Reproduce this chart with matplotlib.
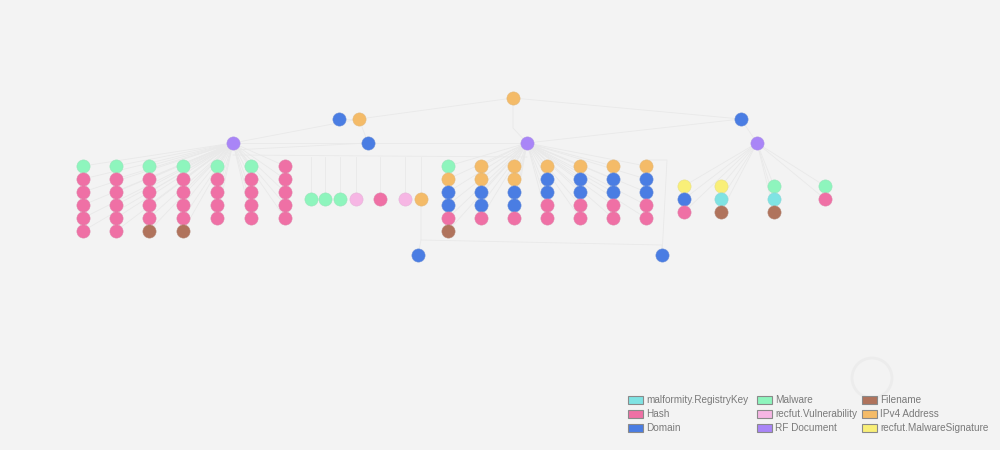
import matplotlib
matplotlib.use('Agg')
import matplotlib.pyplot as plt
from matplotlib.patches import Rectangle
from matplotlib.colors import to_rgb

plt.rcParams['font.family'] = ['Liberation Sans', 'DejaVu Sans']

# Типы сущностей (порядок как в легенде, по столбцам)
legend_types = ['malformity.RegistryKey', 'Hash', 'Domain',
                'Malware', 'recfut.Vulnerability', 'RF Document',
                'Filename', 'IPv4 Address', 'recfut.MalwareSignature']
legend_colors = ['#7fe3e3', '#ef70a5', '#4a7de3',
                 '#8ef5bd', '#f6b6e4', '#a985f7',
                 '#b0735c', '#f4bb68', '#f9ef78']
type_color = dict(zip(legend_types, legend_colors))

# Колонки дочерних узлов для каждого RF Document
left_doc_cols = [
    ['Malware', 'Hash', 'Hash', 'Hash', 'Hash', 'Hash'],
    ['Malware', 'Hash', 'Hash', 'Hash', 'Hash', 'Hash'],
    ['Malware', 'Hash', 'Hash', 'Hash', 'Hash', 'Filename'],
    ['Malware', 'Hash', 'Hash', 'Hash', 'Hash', 'Filename'],
    ['Malware', 'Hash', 'Hash', 'Hash', 'Hash'],
    ['Malware', 'Hash', 'Hash', 'Hash', 'Hash'],
    ['Hash', 'Hash', 'Hash', 'Hash', 'Hash'],
]
mid_doc_cols = [
    ['Malware', 'IPv4 Address', 'Domain', 'Domain', 'Hash', 'Filename'],
    ['IPv4 Address', 'IPv4 Address', 'Domain', 'Domain', 'Hash'],
    ['IPv4 Address', 'IPv4 Address', 'Domain', 'Domain', 'Hash'],
    ['IPv4 Address', 'Domain', 'Domain', 'Hash', 'Hash'],
    ['IPv4 Address', 'Domain', 'Domain', 'Hash', 'Hash'],
    ['IPv4 Address', 'Domain', 'Domain', 'Hash', 'Hash'],
    ['IPv4 Address', 'Domain', 'Domain', 'Hash', 'Hash'],
]
right_doc_cols = [
    ['recfut.MalwareSignature', 'Domain', 'Hash'],
    ['recfut.MalwareSignature', 'malformity.RegistryKey', 'Filename'],
    ['Malware', 'malformity.RegistryKey', 'Filename'],
    ['Malware', 'Hash'],
]
# Ряд узлов посередине
mid_row = ['Malware', 'Malware', 'Malware', 'recfut.Vulnerability', 'Hash',
           'recfut.Vulnerability', 'IPv4 Address']

# Раскладка (в пикселях изображения)
hubs = {
    'ip_top': ('IPv4 Address', 513, 98),
    'dom_a': ('Domain', 339, 119),
    'ip_a': ('IPv4 Address', 359, 119),
    'dom_b': ('Domain', 368, 143),
    'doc_l': ('RF Document', 233, 143),
    'doc_m': ('RF Document', 527, 143),
    'dom_r': ('Domain', 741, 119),
    'doc_r': ('RF Document', 757, 143),
    'dom_bl': ('Domain', 418, 255),
    'dom_br': ('Domain', 662, 255),
}
left_x = [83, 116, 149, 183, 217, 251, 285]
mid_x = [448, 481, 514, 547, 580, 613, 646]
right_x = [684, 721, 774, 825]
mid_row_x = [311, 325, 340, 356, 380, 405, 421]
row_top, row_step = 166, 13
right_top = 186
mid_row_y = 199

edge_col = '#e9e9e9'
bg = '#f3f3f3'

fig = plt.figure(figsize=(10, 4.5), dpi=100)
fig.patch.set_facecolor(bg)
ax = fig.add_axes([0, 0, 1, 1])
ax.set_facecolor(bg)
ax.set_xlim(0, 1000)
ax.set_ylim(450, 0)
ax.axis('off')

# бледный водяной знак (только эмблема)
ax.add_patch(plt.Circle((872, 378), 20, color='#ececec', fill=False, lw=2, zorder=0))

nodes = []  # (x, y, type)


def line(pts, lw=0.6):
    xs = [p[0] for p in pts]
    ys = [p[1] for p in pts]
    ax.plot(xs, ys, color=edge_col, lw=lw, zorder=1)


def add_group(cols, xs, y0, hub):
    hx, hy = hubs[hub][1], hubs[hub][2]
    for x, col in zip(xs, cols):
        for i, t in enumerate(col):
            y = y0 + i * row_step
            line([(hx, hy), (x, y)])
            nodes.append((x, y, t))


add_group(left_doc_cols, left_x, row_top, 'doc_l')
add_group(mid_doc_cols, mid_x, row_top, 'doc_m')
add_group(right_doc_cols, right_x, right_top, 'doc_r')

# средний ряд с ортогональными связями
for x, t in zip(mid_row_x, mid_row):
    line([(x, mid_row_y), (x, 157)])
    nodes.append((x, mid_row_y, t))
line([(233, 155), (527, 157)])
line([(233, 150), (368, 143)])

# связи между узлами-хабами
line([(513, 98), (359, 119)])
line([(513, 98), (741, 119)])
line([(513, 98), (513, 128), (527, 143)])
line([(339, 119), (359, 119)])
line([(359, 119), (368, 143)])
line([(233, 143), (359, 119)])
line([(527, 143), (741, 119)])
line([(741, 119), (757, 143)])
line([(233, 143), (527, 143)])
line([(421, 199), (421, 240), (418, 255)])
line([(421, 240), (662, 245), (662, 255)])
line([(662, 255), (667, 160), (646, 160)])

for key, (t, x, y) in hubs.items():
    nodes.append((x, y, t))

for x, y, t in nodes:
    c = type_color[t]
    ring = tuple(0.75 * v + 0.25 * 0.7 for v in to_rgb(c))
    ax.scatter(x, y, s=90, color=c, edgecolor=ring, linewidth=0.4, zorder=3)

# легенда
leg_x = [628, 757, 862]
leg_y = [400, 414, 428]
for i, (name, c) in enumerate(zip(legend_types, legend_colors)):
    cx = leg_x[i // 3]
    cy = leg_y[i % 3]
    ax.add_patch(Rectangle((cx, cy - 4), 15, 8, facecolor=c,
                           edgecolor='#8a8a8a', lw=0.8, zorder=4))
    ax.text(cx + 18, cy, name, fontsize=7.2, color='#7a7a7a',
            va='center', ha='left', zorder=4)

fig.savefig('out.png', dpi=100, facecolor=bg)
